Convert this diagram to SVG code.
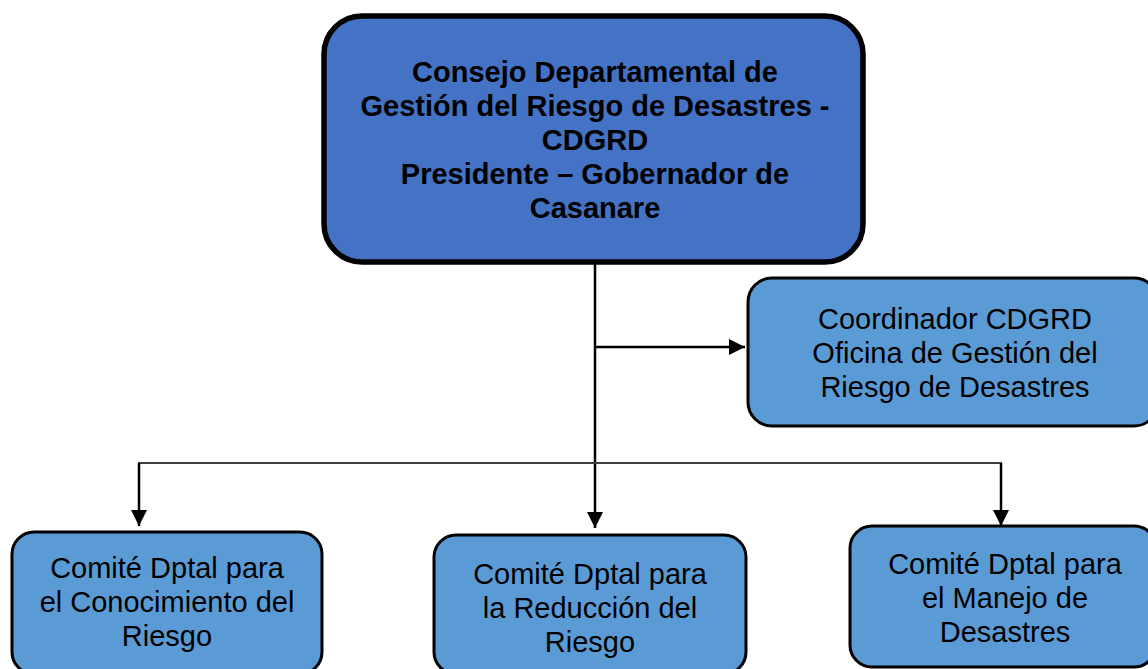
<svg xmlns="http://www.w3.org/2000/svg" width="1148" height="669" viewBox="0 0 1148 669">
<style>
.t{font-family:"Liberation Sans",Arial,sans-serif;font-size:29px;fill:#000;text-anchor:middle}
.b{font-weight:bold}
.main{fill:#4472C4;stroke:#000;stroke-width:5.5}
.sub{fill:#5B9BD5;stroke:#000;stroke-width:3}
.ln{fill:none;stroke:#000;stroke-width:2.5}
.ln2{fill:none;stroke:#404040;stroke-width:1.8}
</style>
<defs>
<marker id="ah" viewBox="0 0 10 10" refX="10" refY="5" markerWidth="16" markerHeight="16" markerUnits="userSpaceOnUse" orient="auto">
<path d="M0,0 L10,5 L0,10 z" fill="#000"/>
</marker>
</defs>
<rect width="1148" height="669" fill="#fff"/>
<g id="connectors">
<line class="ln" x1="595" y1="263" x2="595" y2="528" marker-end="url(#ah)"/>
<line class="ln" x1="595" y1="347" x2="745" y2="347" marker-end="url(#ah)"/>
<polyline class="ln2" points="139,526 139,463 1001,463 1001,526"/>
<line class="ln" x1="139" y1="463" x2="139" y2="526" marker-end="url(#ah)"/>
<line class="ln" x1="1001" y1="463" x2="1001" y2="526" marker-end="url(#ah)"/>
</g>
<g id="cdgrd">
<rect class="main" x="324" y="16" width="539" height="246" rx="38"/>
<text class="t b" x="595" y="82">Consejo Departamental de</text>
<text class="t b" x="595" y="116">Gestión del Riesgo de Desastres -</text>
<text class="t b" x="595" y="150">CDGRD</text>
<text class="t b" x="595" y="184">Presidente – Gobernador de</text>
<text class="t b" x="595" y="218">Casanare</text>
</g>
<g id="coordinador">
<rect class="sub" x="748" y="278" width="410" height="148" rx="24"/>
<text class="t" x="955" y="329">Coordinador CDGRD</text>
<text class="t" x="955" y="363">Oficina de Gestión del</text>
<text class="t" x="955" y="397">Riesgo de Desastres</text>
</g>
<g id="comite-conocimiento">
<rect class="sub" x="12" y="532" width="310" height="142" rx="22"/>
<text class="t" x="167" y="578">Comité Dptal para</text>
<text class="t" x="167" y="612">el Conocimiento del</text>
<text class="t" x="167" y="646">Riesgo</text>
</g>
<g id="comite-reduccion">
<rect class="sub" x="434" y="535" width="312" height="139" rx="22"/>
<text class="t" x="590" y="584">Comité Dptal para</text>
<text class="t" x="590" y="618">la Reducción del</text>
<text class="t" x="590" y="652">Riesgo</text>
</g>
<g id="comite-manejo">
<rect class="sub" x="850" y="526" width="306" height="141" rx="22"/>
<text class="t" x="1005" y="574">Comité Dptal para</text>
<text class="t" x="1005" y="608">el Manejo de</text>
<text class="t" x="1005" y="642">Desastres</text>
</g>
</svg>
